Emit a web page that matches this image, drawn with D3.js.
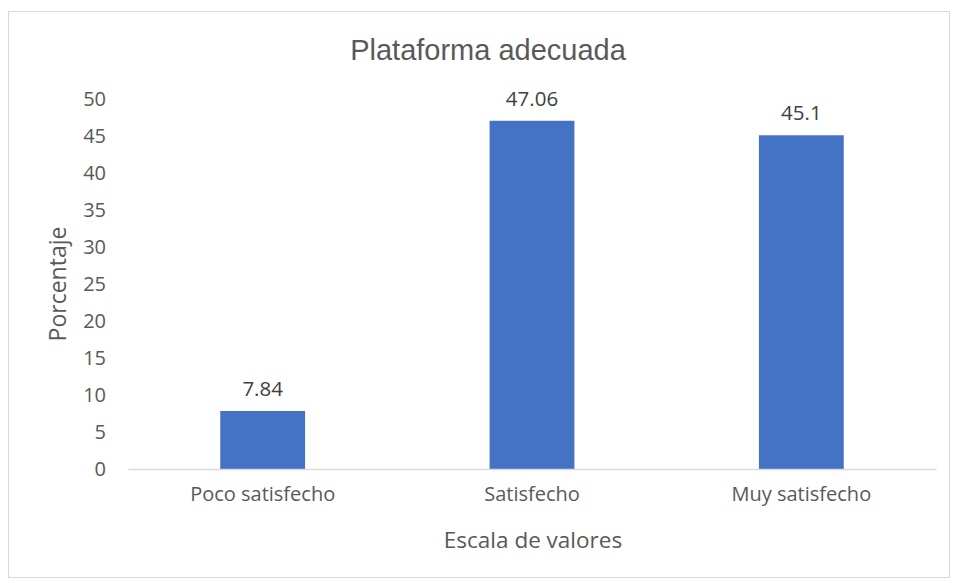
<!DOCTYPE html>
<html>
<head>
<meta charset="utf-8">
<script src="https://cdnjs.cloudflare.com/ajax/libs/d3/7.8.5/d3.min.js"></script>
<style>
  body { margin: 0; background: #fff; }
  text { font-family: "Open Sans", "Noto Sans", sans-serif; }
</style>
</head>
<body>
<svg width="955" height="583"></svg>
<script>
var categories = ['Poco satisfecho', 'Satisfecho', 'Muy satisfecho'];
var values = [7.84, 47.06, 45.1];
var yTicks = [0, 5, 10, 15, 20, 25, 30, 35, 40, 45, 50];

var svg = d3.select('svg');
var margin = {top: 99, bottom: 114, left: 128, right: 17};
var width = 955, height = 583;

// chart border
svg.append('rect')
    .attr('x', 8.5).attr('y', 11.5)
    .attr('width', 941).attr('height', 566)
    .attr('fill', 'none')
    .attr('stroke', '#d9d9d9');

var xScale = d3.scaleBand()
    .domain(categories)
    .range([margin.left, width - margin.right - 2])
    .paddingInner(0.685)
    .paddingOuter(0.3425);

var yScale = d3.scaleLinear()
    .domain([0, 50])
    .range([height - margin.bottom, margin.top]);

// bars
svg.selectAll('rect.bar')
    .data(values)
    .enter().append('rect')
    .attr('class', 'bar')
    .attr('x', (d, i) => xScale(categories[i]))
    .attr('y', d => yScale(d))
    .attr('width', xScale.bandwidth())
    .attr('height', d => yScale(0) - yScale(d))
    .attr('fill', '#4472c4');

// data labels
svg.selectAll('text.lbl')
    .data(values)
    .enter().append('text')
    .attr('class', 'lbl')
    .attr('x', (d, i) => xScale(categories[i]) + xScale.bandwidth() / 2)
    .attr('y', d => yScale(d) - 15)
    .attr('text-anchor', 'middle')
    .attr('font-size', 20.5)
    .attr('fill', '#404040')
    .text(d => d);

// x axis
var xAxis = d3.axisBottom(xScale).tickSize(0).tickPadding(18);
var gx = svg.append('g')
    .attr('transform', 'translate(' + [0, yScale(0)] + ')')
    .call(xAxis);
gx.select('.domain').attr('stroke', '#d9d9d9').attr('stroke-width', 1.5);
gx.selectAll('text').attr('font-size', 20).attr('fill', '#595959')
    .style('font-family', '"Open Sans", "Noto Sans", sans-serif');

// y axis
var yAxis = d3.axisLeft(yScale).tickValues(yTicks).tickSize(0).tickPadding(22);
var gy = svg.append('g')
    .attr('transform', 'translate(' + [margin.left, 0] + ')')
    .call(yAxis);
gy.select('.domain').remove();
gy.selectAll('text').attr('font-size', 20).attr('fill', '#595959')
    .style('font-family', '"Open Sans", "Noto Sans", sans-serif');

// title
svg.append('text')
    .attr('x', 488).attr('y', 60)
    .attr('text-anchor', 'middle')
    .attr('font-size', 29)
    .attr('fill', '#595959')
    .style('font-family', '"Liberation Sans", Arial, sans-serif')
    .text('Plataforma adecuada');

// axis titles
svg.append('text')
    .attr('transform', 'translate(' + [66, 284] + ') rotate(-90)')
    .attr('text-anchor', 'middle')
    .attr('font-size', 23)
    .attr('fill', '#595959')
    .text('Porcentaje');

svg.append('text')
    .attr('x', 533).attr('y', 548)
    .attr('text-anchor', 'middle')
    .attr('font-size', 22.5)
    .attr('fill', '#595959')
    .text('Escala de valores');
</script>
</body>
</html>
